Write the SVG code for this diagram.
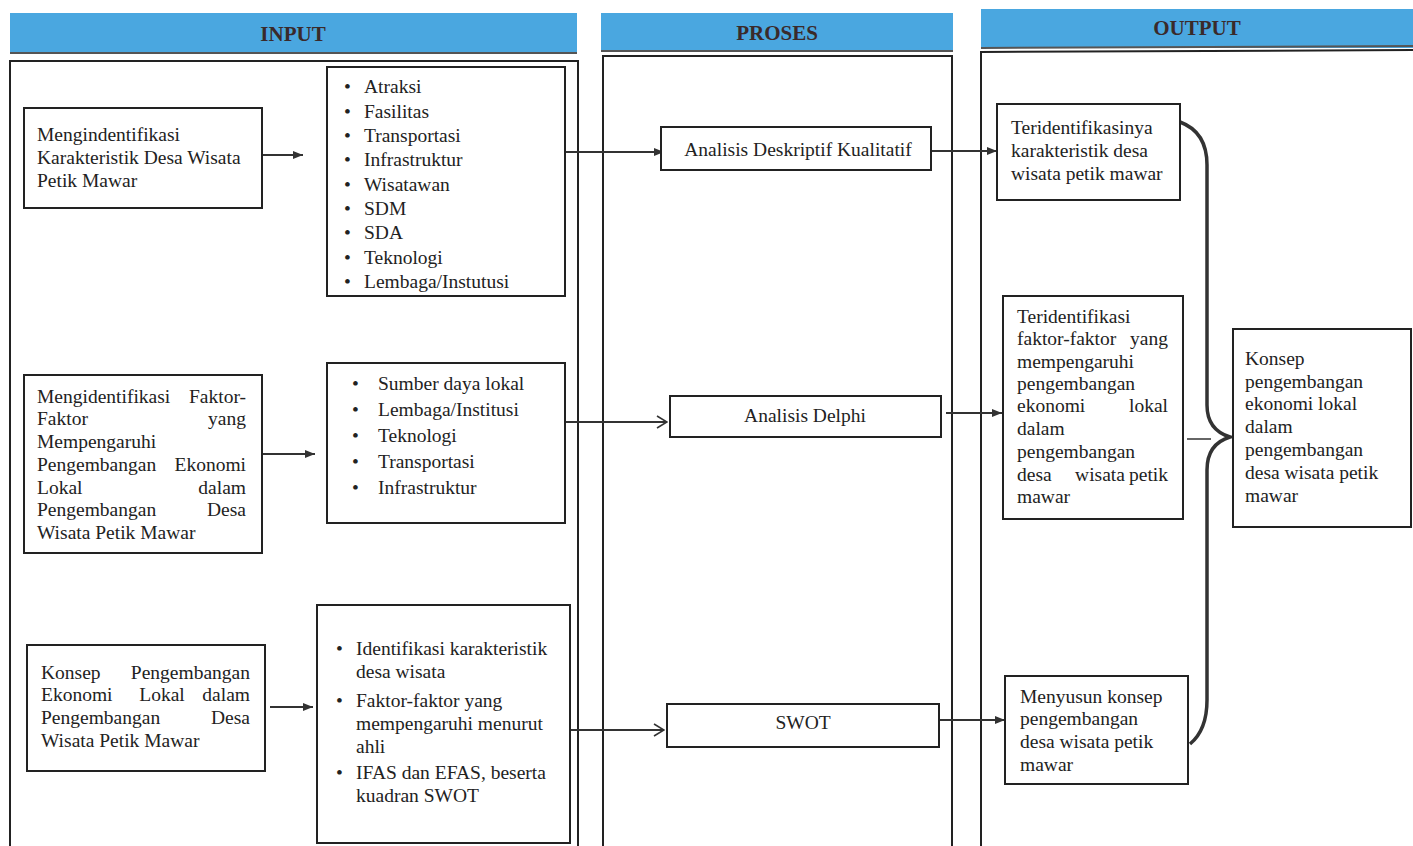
<svg xmlns="http://www.w3.org/2000/svg" width="1413" height="846" viewBox="0 0 1413 846">
<style>
.hdr{fill:#4aa7e0;}
.hl{stroke:#555;stroke-width:2;fill:none;}
.ht{font-family:"Liberation Serif","Times New Roman",serif;font-weight:bold;font-size:21px;fill:#3a2a2a;text-anchor:middle;}
.frame{fill:none;stroke:#222;stroke-width:2;}
.box{fill:#fff;stroke:#222;stroke-width:2;}
.t{font-family:"Liberation Serif","Times New Roman",serif;font-size:19.5px;fill:#222;}
.m{text-anchor:middle;}
.e{text-anchor:end;}
.c{stroke:#333;stroke-width:2;fill:none;}
.brace{stroke:#333;stroke-width:3.5;fill:none;}
.thin{stroke:#333;stroke-width:1.5;fill:none;}
</style>
<defs>
<marker id="fa" viewBox="0 0 10 10" refX="10" refY="5" markerWidth="10" markerHeight="10" markerUnits="userSpaceOnUse" orient="auto">
<path d="M0,1 L10,5 L0,9 z" fill="#333"/>
</marker>
<marker id="oa" viewBox="0 0 12 14" refX="11" refY="7" markerWidth="12" markerHeight="14" markerUnits="userSpaceOnUse" orient="auto">
<path d="M1,1 L11,7 L1,13" fill="none" stroke="#333" stroke-width="1.6"/>
</marker>
</defs>
<rect width="1413" height="846" fill="#fff"/>

<g id="headers">
<rect class="hdr" x="10" y="13" width="567" height="40"/>
<line class="hl" x1="10" y1="53" x2="577" y2="53"/>
<text class="ht" x="293" y="41">INPUT</text>
<rect class="hdr" x="601" y="13" width="352" height="38"/>
<line class="hl" x1="601" y1="51" x2="953" y2="51"/>
<text class="ht" x="777" y="40">PROSES</text>
<rect class="hdr" x="981" y="9" width="432" height="39"/>
<line class="hl" x1="981" y1="48" x2="1413" y2="46"/>
<text class="ht" x="1197" y="35">OUTPUT</text>
</g>

<g id="frames">
<rect class="frame" x="10" y="61" width="568" height="800"/>
<rect class="frame" x="603" y="56" width="349" height="800"/>
<path class="frame" d="M981,860 L981,52 L1413,50"/>
</g>

<g id="connectors">
<line class="c" x1="262" y1="155" x2="303" y2="155" marker-end="url(#fa)"/>
<line class="c" x1="565" y1="152" x2="664" y2="152" marker-end="url(#fa)"/>
<line class="c" x1="931" y1="151" x2="997" y2="151" marker-end="url(#fa)"/>
<line class="c" x1="262" y1="454" x2="315" y2="454" marker-end="url(#fa)"/>
<line class="c" x1="565" y1="422" x2="667" y2="422" marker-end="url(#oa)"/>
<line class="c" x1="946" y1="413" x2="1002" y2="413" marker-end="url(#fa)"/>
<line class="c" x1="270" y1="707" x2="313" y2="707" marker-end="url(#fa)"/>
<line class="c" x1="560" y1="730" x2="664" y2="730" marker-end="url(#oa)"/>
<line class="c" x1="939" y1="720" x2="1005" y2="720" marker-end="url(#fa)"/>
<line class="thin" x1="1187" y1="439" x2="1211" y2="439"/>
<path class="brace" d="M1180,122 Q1207,132 1207,165 L1207,405 Q1207,430 1230,437 Q1207,444 1207,470 L1207,700 Q1207,730 1190,744"/>
</g>

<g id="input1">
<rect class="box" x="24" y="108" width="238" height="100"/>
<text class="t" x="37" y="141">Mengindentifikasi</text>
<text class="t" x="37" y="164">Karakteristik Desa Wisata</text>
<text class="t" x="37" y="187">Petik Mawar</text>
</g>

<g id="list1">
<rect class="box" x="327" y="67" width="238" height="229"/>
<g class="t">
<text x="344" y="93">•</text><text x="364" y="93">Atraksi</text>
<text x="344" y="118">•</text><text x="364" y="118">Fasilitas</text>
<text x="344" y="142">•</text><text x="364" y="142">Transportasi</text>
<text x="344" y="166">•</text><text x="364" y="166">Infrastruktur</text>
<text x="344" y="191">•</text><text x="364" y="191">Wisatawan</text>
<text x="344" y="215">•</text><text x="364" y="215">SDM</text>
<text x="344" y="239">•</text><text x="364" y="239">SDA</text>
<text x="344" y="264">•</text><text x="364" y="264">Teknologi</text>
<text x="344" y="288">•</text><text x="364" y="288">Lembaga/Instutusi</text>
</g>
</g>

<g id="input2">
<rect class="box" x="24" y="375" width="238" height="178"/>
<text class="t" x="37" y="403">Mengidentifikasi</text><text class="t e" x="246" y="403">Faktor-</text>
<text class="t" x="37" y="425">Faktor</text><text class="t e" x="246" y="425">yang</text>
<text class="t" x="37" y="448">Mempengaruhi</text>
<text class="t" x="37" y="471">Pengembangan</text><text class="t e" x="246" y="471">Ekonomi</text>
<text class="t" x="37" y="494">Lokal</text><text class="t e" x="246" y="494">dalam</text>
<text class="t" x="37" y="516">Pengembangan</text><text class="t e" x="246" y="516">Desa</text>
<text class="t" x="37" y="539">Wisata Petik Mawar</text>
</g>

<g id="list2">
<rect class="box" x="327" y="363" width="238" height="160"/>
<g class="t">
<text x="352" y="390">•</text><text x="378" y="390">Sumber daya lokal</text>
<text x="352" y="416">•</text><text x="378" y="416">Lembaga/Institusi</text>
<text x="352" y="442">•</text><text x="378" y="442">Teknologi</text>
<text x="352" y="468">•</text><text x="378" y="468">Transportasi</text>
<text x="352" y="494">•</text><text x="378" y="494">Infrastruktur</text>
</g>
</g>

<g id="input3">
<rect class="box" x="27" y="645" width="238" height="126"/>
<text class="t" x="41" y="679">Konsep</text><text class="t e" x="250" y="679">Pengembangan</text>
<text class="t" x="41" y="701">Ekonomi</text><text class="t m" x="162" y="701">Lokal</text><text class="t e" x="250" y="701">dalam</text>
<text class="t" x="41" y="724">Pengembangan</text><text class="t e" x="250" y="724">Desa</text>
<text class="t" x="41" y="747">Wisata Petik Mawar</text>
</g>

<g id="list3">
<rect class="box" x="317" y="605" width="253" height="238"/>
<g class="t">
<text x="336" y="655">•</text><text x="356" y="655">Identifikasi karakteristik</text>
<text x="356" y="678">desa wisata</text>
<text x="336" y="707">•</text><text x="356" y="707">Faktor-faktor yang</text>
<text x="356" y="730">mempengaruhi menurut</text>
<text x="356" y="753">ahli</text>
<text x="336" y="779">•</text><text x="356" y="779">IFAS dan EFAS, beserta</text>
<text x="356" y="802">kuadran SWOT</text>
</g>
</g>

<g id="proc1">
<rect class="box" x="661" y="127" width="270" height="43"/>
<text class="t m" x="798" y="156">Analisis Deskriptif Kualitatif</text>
</g>

<g id="proc2">
<rect class="box" x="670" y="396" width="271" height="41"/>
<text class="t m" x="805" y="422">Analisis Delphi</text>
</g>

<g id="proc3">
<rect class="box" x="667" y="704" width="272" height="43"/>
<text class="t m" x="803" y="729">SWOT</text>
</g>

<g id="out1">
<rect class="box" x="997" y="104" width="183" height="96"/>
<text class="t" x="1011" y="134">Teridentifikasinya</text>
<text class="t" x="1011" y="157">karakteristik desa</text>
<text class="t" x="1011" y="180">wisata petik mawar</text>
</g>

<g id="out2">
<rect class="box" x="1003" y="296" width="180" height="223"/>
<text class="t" x="1017" y="323">Teridentifikasi</text>
<text class="t" x="1017" y="345">faktor-faktor</text><text class="t e" x="1168" y="345">yang</text>
<text class="t" x="1017" y="368">mempengaruhi</text>
<text class="t" x="1017" y="390">pengembangan</text>
<text class="t" x="1017" y="412">ekonomi</text><text class="t e" x="1168" y="412">lokal</text>
<text class="t" x="1017" y="435">dalam</text>
<text class="t" x="1017" y="458">pengembangan</text>
<text class="t" x="1017" y="481">desa</text><text class="t m" x="1100" y="481">wisata</text><text class="t e" x="1168" y="481">petik</text>
<text class="t" x="1017" y="503">mawar</text>
</g>

<g id="out3">
<rect class="box" x="1005" y="676" width="183" height="108"/>
<text class="t" x="1020" y="703">Menyusun konsep</text>
<text class="t" x="1020" y="725">pengembangan</text>
<text class="t" x="1020" y="748">desa wisata petik</text>
<text class="t" x="1020" y="771">mawar</text>
</g>

<g id="out4">
<rect class="box" x="1233" y="329" width="178" height="198"/>
<text class="t" x="1245" y="365">Konsep</text>
<text class="t" x="1245" y="388">pengembangan</text>
<text class="t" x="1245" y="410">ekonomi lokal</text>
<text class="t" x="1245" y="433">dalam</text>
<text class="t" x="1245" y="456">pengembangan</text>
<text class="t" x="1245" y="479">desa wisata petik</text>
<text class="t" x="1245" y="502">mawar</text>
</g>
</svg>
